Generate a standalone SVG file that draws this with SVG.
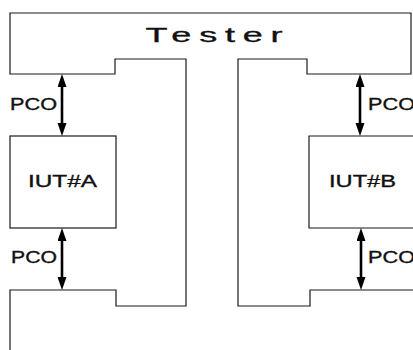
<svg xmlns="http://www.w3.org/2000/svg" width="413" height="350" viewBox="0 0 413 350">
<style>
.outline{fill:none;stroke:#1a1a1a;stroke-width:1.2}
.lbl{font-family:"Liberation Sans",Arial,sans-serif;fill:#111;stroke:#111;stroke-width:0.35}
.conn{stroke:#000;stroke-width:2.6;fill:none}
</style>
<defs>
<marker id="ah" markerUnits="userSpaceOnUse" markerWidth="14" markerHeight="10" refX="3" refY="4.5" orient="auto-start-reverse" viewBox="0 0 14 10">
<path d="M0,0 L13,4.5 L0,9 z" fill="#000"/>
</marker>
</defs>
<rect width="413" height="350" fill="#fff"/>
<g id="tester">
<path class="outline" d="M10,350 V290 H116 V306 H186 V59 H115 V74 H10 V13 H411 V74 H307 V59 H238 V306 H310 V290 H413"/>
<text class="lbl" font-size="20" text-anchor="middle" transform="translate(214,42) scale(1.8,1)" x="0" y="0" textLength="76" lengthAdjust="spacing" stroke-width="0.3">Tester</text>
</g>
<g id="iutA">
<rect class="outline" x="10" y="136" width="106" height="92"/>
<text class="lbl" font-size="17" x="28" y="187" textLength="69" lengthAdjust="spacingAndGlyphs">IUT#A</text>
</g>
<g id="iutB">
<path class="outline" d="M413,136 H309 V228 H413"/>
<text class="lbl" font-size="17" x="329" y="187" textLength="67" lengthAdjust="spacingAndGlyphs">IUT#B</text>
</g>
<g id="connectors">
<line class="conn" x1="62" y1="84" x2="62" y2="126" marker-start="url(#ah)" marker-end="url(#ah)"/>
<line class="conn" x1="62" y1="238" x2="62" y2="280" marker-start="url(#ah)" marker-end="url(#ah)"/>
<line class="conn" x1="360" y1="84" x2="360" y2="126" marker-start="url(#ah)" marker-end="url(#ah)"/>
<line class="conn" x1="361" y1="238" x2="361" y2="280" marker-start="url(#ah)" marker-end="url(#ah)"/>
<text class="lbl" font-size="17" x="10" y="110" textLength="47" lengthAdjust="spacingAndGlyphs">PCO</text>
<text class="lbl" font-size="17" x="11" y="263" textLength="46" lengthAdjust="spacingAndGlyphs">PCO</text>
<text class="lbl" font-size="17" x="368" y="110" textLength="47" lengthAdjust="spacingAndGlyphs">PCO</text>
<text class="lbl" font-size="17" x="368" y="263" textLength="47" lengthAdjust="spacingAndGlyphs">PCO</text>
</g>
</svg>
